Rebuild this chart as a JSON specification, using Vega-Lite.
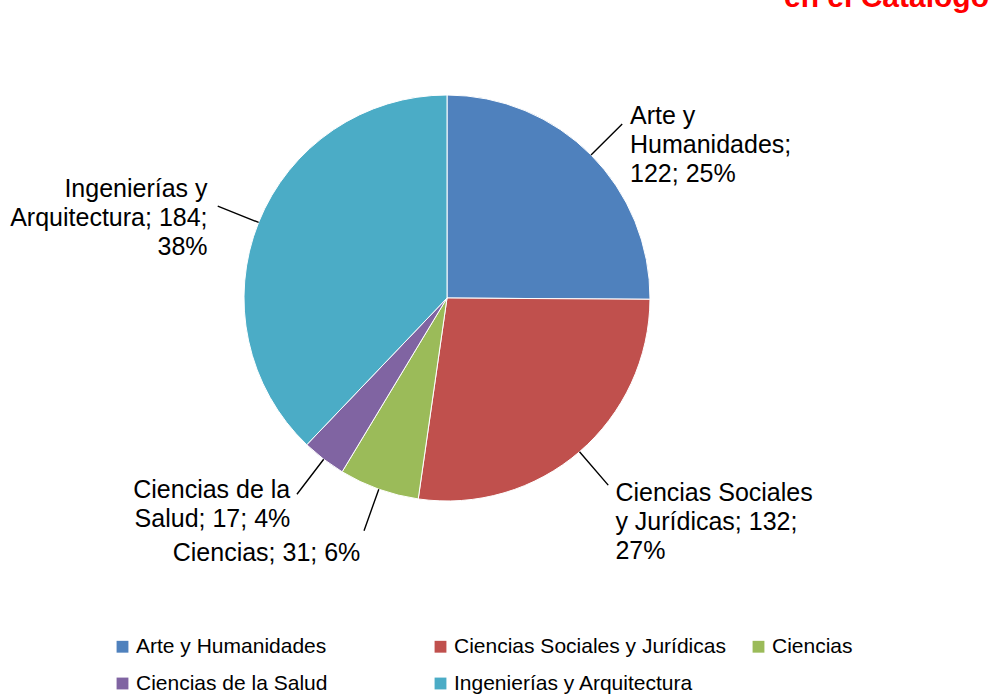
{
  "$schema": "https://vega.github.io/schema/vega-lite/v6.json",
  "width": 894,
  "height": 596,
  "autosize": {"type": "none"},
  "padding": {"left": 0, "top": 0, "right": 101, "bottom": 99},
  "background": "white",
  "title": {
    "text": "en el Catálogo",
    "anchor": "end",
    "orient": "top",
    "color": "#FF0000",
    "font": "Liberation Sans",
    "fontSize": 30,
    "fontWeight": "bold",
    "baseline": "alphabetic",
    "offset": -37,
    "dx": 95
  },
  "config": {"view": {"stroke": null}},
  "data": {
    "values": [
      {"idx": 1, "area": "Arte y Humanidades", "n": 122, "label": "Arte y\nHumanidades;\n122; 25%"},
      {"idx": 2, "area": "Ciencias Sociales y Jurídicas", "n": 132, "label": "Ciencias Sociales\ny Jurídicas; 132;\n27%"},
      {"idx": 3, "area": "Ciencias", "n": 31, "label": "Ciencias; 31; 6%"},
      {"idx": 4, "area": "Ciencias de la Salud", "n": 17, "label": "Ciencias de la\nSalud; 17; 4%"},
      {"idx": 5, "area": "Ingenierías y Arquitectura", "n": 184, "label": "Ingenierías y\nArquitectura; 184;\n38%"}
    ]
  },
  "layer": [
    {
      "mark": {"type": "arc", "outerRadius": 203, "stroke": "white", "strokeWidth": 1},
      "encoding": {
        "theta": {"field": "n", "type": "quantitative", "stack": true},
        "order": {"field": "idx", "type": "quantitative"},
        "color": {
          "field": "area",
          "type": "nominal",
          "sort": ["Arte y Humanidades", "Ciencias Sociales y Jurídicas", "Ciencias", "Ciencias de la Salud", "Ingenierías y Arquitectura"],
          "scale": {
            "domain": ["Arte y Humanidades", "Ciencias Sociales y Jurídicas", "Ciencias", "Ciencias de la Salud", "Ingenierías y Arquitectura"],
            "range": ["#4F81BD", "#C0504D", "#9BBB59", "#8064A2", "#4BACC6"]
          },
          "legend": {
            "orient": "none",
            "legendX": 112,
            "legendY": 636,
            "direction": "horizontal",
            "columns": 3,
            "gridAlign": "all",
            "title": null,
            "symbolType": "square",
            "symbolSize": 140,
            "symbolStrokeWidth": 0,
            "labelFont": "Liberation Sans",
            "labelFontSize": 21,
            "labelColor": "black",
            "labelOffset": 3,
            "labelLimit": 400,
            "columnPadding": 22,
            "rowPadding": 15
          }
        }
      }
    },
    {
      "transform": [
        {"stack": "n", "groupby": [], "sort": [{"field": "idx", "order": "ascending"}], "as": ["s0", "s1"]},
        {"fold": ["s0", "s1"], "as": ["k", "v"]},
        {"aggregate": [{"op": "mean", "field": "v", "as": "mid"}], "groupby": ["area", "label", "idx"]}
      ],
      "layer": [
        {
          "mark": {"type": "arc", "radius": 247, "radius2": 203, "stroke": "black", "strokeWidth": 1.4, "fill": null},
          "encoding": {
            "theta": {"field": "mid", "type": "quantitative"},
            "theta2": {"field": "mid"}
          }
        },
        {
          "transform": [{"filter": "datum.idx <= 2"}],
          "mark": {"type": "text", "radius": 258, "font": "Liberation Sans", "fontSize": 25, "lineHeight": 29, "lineBreak": "\n", "align": "left", "baseline": "middle", "color": "black"},
          "encoding": {
            "theta": {"field": "mid", "type": "quantitative"},
            "text": {"field": "label", "type": "nominal"}
          }
        },
        {
          "transform": [{"filter": "datum.idx >= 4"}],
          "mark": {"type": "text", "radius": 258, "font": "Liberation Sans", "fontSize": 25, "lineHeight": 29, "lineBreak": "\n", "align": "right", "baseline": "bottom", "color": "black"},
          "encoding": {
            "theta": {"field": "mid", "type": "quantitative"},
            "text": {"field": "label", "type": "nominal"}
          }
        },
        {
          "transform": [{"filter": "datum.idx == 3"}],
          "mark": {"type": "text", "radius": 258, "font": "Liberation Sans", "fontSize": 25, "lineHeight": 29, "lineBreak": "\n", "align": "right", "baseline": "top", "color": "black"},
          "encoding": {
            "theta": {"field": "mid", "type": "quantitative"},
            "text": {"field": "label", "type": "nominal"}
          }
        }
      ]
    }
  ]
}
